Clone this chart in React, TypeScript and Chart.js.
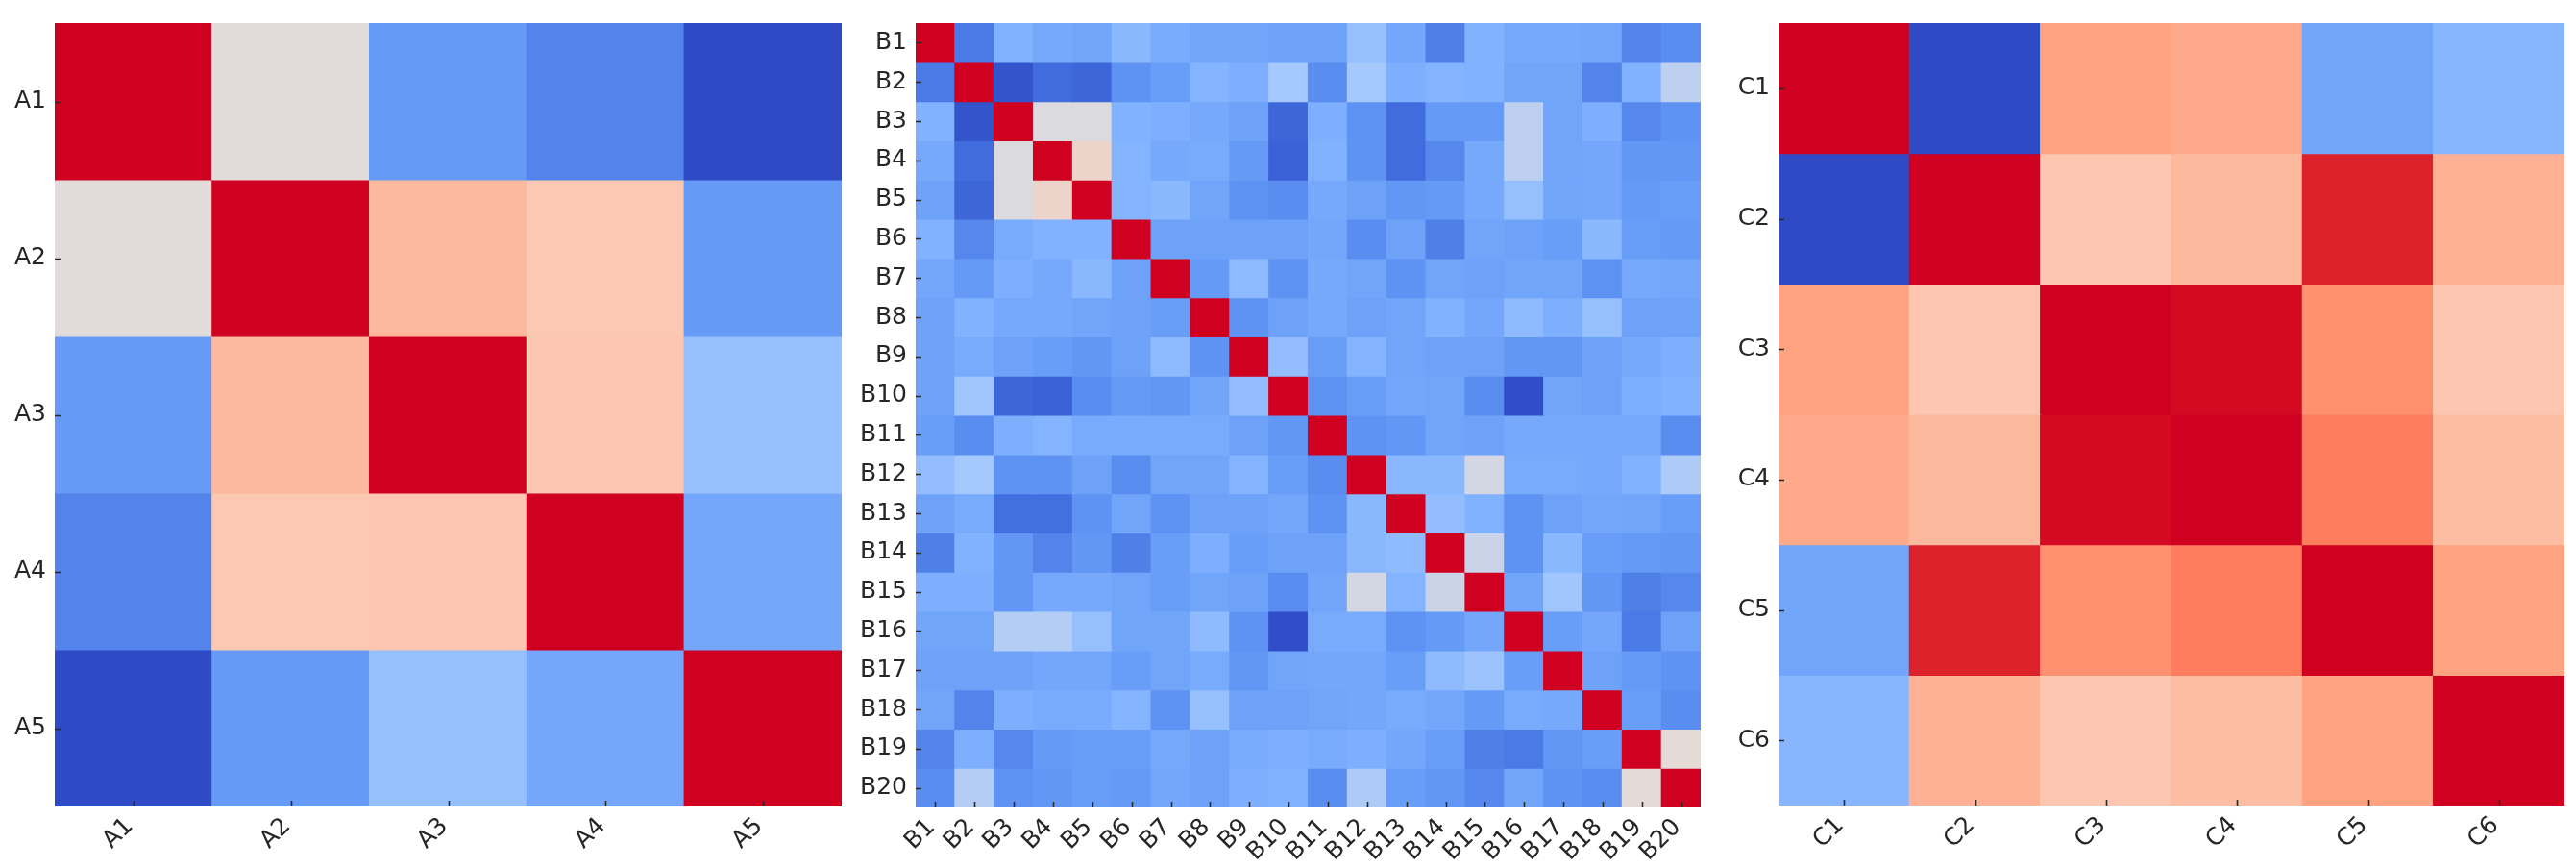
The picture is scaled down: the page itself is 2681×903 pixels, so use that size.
import React, { useEffect, useRef } from 'react';
import { Chart, registerables } from 'chart.js';

Chart.register(...registerables);

// ---------- data ----------
const A_LABELS = ['A1', 'A2', 'A3', 'A4', 'A5'];
const A_VALUES = [
  [1.0, 0.0, -0.58, -0.7, -1.0],
  [0.0, 1.0, 0.28, 0.2, -0.58],
  [-0.58, 0.28, 1.0, 0.21, -0.28],
  [-0.7, 0.2, 0.21, 1.0, -0.48],
  [-1.0, -0.58, -0.28, -0.48, 1.0],
];

const B_LABELS = Array.from({ length: 20 }, (_, i) => `B${i + 1}`);
const B_VALUES = [
  [1, -0.75, -0.4, -0.47, -0.5, -0.35, -0.45, -0.5, -0.5, -0.52, -0.52, -0.28, -0.48, -0.72, -0.4, -0.47, -0.47, -0.48, -0.7, -0.65],
  [-0.75, 1, -0.95, -0.82, -0.85, -0.62, -0.55, -0.38, -0.42, -0.2, -0.65, -0.2, -0.42, -0.38, -0.4, -0.5, -0.5, -0.7, -0.4, -0.12],
  [-0.4, -0.95, 1, -0.02, -0.02, -0.4, -0.42, -0.47, -0.52, -0.85, -0.42, -0.62, -0.82, -0.58, -0.58, -0.12, -0.5, -0.42, -0.68, -0.62],
  [-0.47, -0.82, -0.02, 1, 0.08, -0.38, -0.47, -0.45, -0.58, -0.88, -0.4, -0.62, -0.82, -0.68, -0.47, -0.12, -0.5, -0.48, -0.6, -0.6],
  [-0.52, -0.85, -0.02, 0.08, 1, -0.38, -0.35, -0.5, -0.62, -0.65, -0.47, -0.52, -0.6, -0.58, -0.47, -0.28, -0.5, -0.48, -0.58, -0.55],
  [-0.4, -0.68, -0.45, -0.4, -0.4, 1, -0.52, -0.52, -0.52, -0.52, -0.48, -0.65, -0.52, -0.72, -0.5, -0.52, -0.55, -0.35, -0.55, -0.58],
  [-0.48, -0.58, -0.42, -0.47, -0.35, -0.52, 1, -0.58, -0.33, -0.62, -0.47, -0.5, -0.62, -0.5, -0.52, -0.5, -0.5, -0.63, -0.47, -0.48],
  [-0.52, -0.4, -0.47, -0.47, -0.5, -0.52, -0.55, 1, -0.62, -0.52, -0.47, -0.52, -0.5, -0.4, -0.48, -0.32, -0.42, -0.28, -0.52, -0.52],
  [-0.52, -0.45, -0.52, -0.55, -0.6, -0.52, -0.33, -0.62, 1, -0.3, -0.55, -0.38, -0.5, -0.52, -0.52, -0.6, -0.6, -0.52, -0.47, -0.42],
  [-0.52, -0.22, -0.85, -0.88, -0.65, -0.58, -0.6, -0.5, -0.3, 1, -0.62, -0.55, -0.48, -0.5, -0.65, -0.98, -0.5, -0.52, -0.43, -0.4],
  [-0.55, -0.65, -0.42, -0.38, -0.45, -0.45, -0.45, -0.45, -0.52, -0.6, 1, -0.62, -0.6, -0.5, -0.52, -0.47, -0.47, -0.47, -0.47, -0.65],
  [-0.3, -0.2, -0.62, -0.62, -0.52, -0.65, -0.5, -0.5, -0.38, -0.55, -0.65, 1, -0.35, -0.35, -0.05, -0.45, -0.45, -0.47, -0.4, -0.17],
  [-0.52, -0.45, -0.8, -0.8, -0.62, -0.5, -0.62, -0.52, -0.52, -0.48, -0.62, -0.35, 1, -0.3, -0.4, -0.62, -0.52, -0.48, -0.5, -0.55],
  [-0.72, -0.4, -0.6, -0.7, -0.6, -0.72, -0.55, -0.42, -0.55, -0.52, -0.52, -0.35, -0.32, 1, -0.08, -0.62, -0.35, -0.55, -0.58, -0.6],
  [-0.42, -0.42, -0.6, -0.47, -0.47, -0.5, -0.55, -0.5, -0.52, -0.65, -0.5, -0.05, -0.38, -0.08, 1, -0.5, -0.22, -0.6, -0.72, -0.68],
  [-0.5, -0.5, -0.15, -0.15, -0.28, -0.5, -0.5, -0.32, -0.62, -0.98, -0.45, -0.45, -0.62, -0.58, -0.48, 1, -0.55, -0.48, -0.75, -0.52],
  [-0.52, -0.52, -0.52, -0.48, -0.48, -0.55, -0.5, -0.45, -0.6, -0.5, -0.48, -0.48, -0.55, -0.32, -0.25, -0.55, 1, -0.52, -0.58, -0.62],
  [-0.5, -0.7, -0.42, -0.45, -0.45, -0.38, -0.62, -0.28, -0.52, -0.52, -0.5, -0.48, -0.45, -0.48, -0.58, -0.45, -0.47, 1, -0.55, -0.65],
  [-0.7, -0.42, -0.68, -0.58, -0.55, -0.55, -0.47, -0.52, -0.45, -0.42, -0.45, -0.42, -0.48, -0.55, -0.72, -0.75, -0.6, -0.55, 1, 0.02],
  [-0.65, -0.15, -0.62, -0.6, -0.55, -0.58, -0.48, -0.52, -0.42, -0.4, -0.65, -0.17, -0.55, -0.6, -0.68, -0.5, -0.62, -0.65, 0.02, 1],
];

const C_LABELS = ['C1', 'C2', 'C3', 'C4', 'C5', 'C6'];
const C_VALUES = [
  [1.0, -1.0, 0.4, 0.36, -0.5, -0.36],
  [-1.0, 1.0, 0.21, 0.28, 0.87, 0.32],
  [0.4, 0.21, 1.0, 0.96, 0.5, 0.21],
  [0.36, 0.28, 0.96, 1.0, 0.6, 0.26],
  [-0.5, 0.87, 0.5, 0.6, 1.0, 0.4],
  [-0.36, 0.32, 0.21, 0.26, 0.4, 1.0],
];

// ---------- colour map (value in [-1, 1]) ----------
const CMAP_POS = [-1.0, -0.8, -0.6, -0.4, -0.2, 0.0, 0.2, 0.4, 0.6, 0.8, 1.0];
const CMAP_RGB = [
  [46, 74, 196],
  [66, 112, 224],
  [98, 151, 245],
  [128, 178, 255],
  [165, 200, 253],
  [225, 220, 218],
  [252, 200, 178],
  [255, 162, 128],
  [255, 125, 95],
  [228, 50, 48],
  [208, 0, 32],
];

function colorFor(v: number): string {
  const x = Math.max(-1, Math.min(1, v));
  let i = 0;
  while (i < CMAP_POS.length - 2 && x > CMAP_POS[i + 1]) i++;
  const t = (x - CMAP_POS[i]) / (CMAP_POS[i + 1] - CMAP_POS[i]);
  const a = CMAP_RGB[i];
  const b = CMAP_RGB[i + 1];
  const c = a.map((av, k) => Math.round(av + (b[k] - av) * t));
  return `rgb(${c[0]}, ${c[1]}, ${c[2]})`;
}

const FONT = { family: 'DejaVu Sans', size: 25 };
const TEXT_COLOR = '#262626';

const tickMarks = {
  id: 'tickMarks',
  afterDraw(chart: any) {
    const { ctx, chartArea, scales } = chart;
    ctx.save();
    ctx.strokeStyle = '#2a2a2a';
    ctx.lineWidth = 1.6;
    ctx.beginPath();
    scales.x.ticks.forEach((_: any, i: number) => {
      const px = Math.round(scales.x.getPixelForTick(i)) + 0.5;
      ctx.moveTo(px, chartArea.bottom);
      ctx.lineTo(px, chartArea.bottom - 6);
    });
    scales.y.ticks.forEach((_: any, i: number) => {
      const py = Math.round(scales.y.getPixelForTick(i)) + 0.5;
      ctx.moveTo(chartArea.left, py);
      ctx.lineTo(chartArea.left + 6, py);
    });
    ctx.stroke();
    ctx.restore();
  },
};

type HeatmapProps = {
  labels: string[];
  values: number[][];
  left: number;
  width: number;
  yAxisWidth: number;
  plotSize: number;
  top: number;
  height: number;
};

function Heatmap({ labels, values, left, width, yAxisWidth, plotSize, top, height }: HeatmapProps) {
  const ref = useRef<HTMLCanvasElement | null>(null);
  useEffect(() => {
    if (!ref.current) return;
    const n = labels.length;
    const xAxisHeight = height - top - plotSize;
    const rightPad = width - yAxisWidth - plotSize;
    const chart = new Chart(ref.current, {
      type: 'bar',
      data: {
        labels,
        datasets: values.map((row, r) => ({
          label: labels[r],
          data: labels.map(() => 1),
          backgroundColor: row.map(colorFor),
          borderWidth: 0,
          barPercentage: 1,
          categoryPercentage: 1,
          inflateAmount: 0.6,
          stack: 'cells',
        })),
      },
      options: {
        animation: false,
        responsive: false,
        devicePixelRatio: 1,
        layout: { padding: { top, right: rightPad, bottom: 0, left: 0 } },
        plugins: { legend: { display: false }, tooltip: { enabled: false } },
        scales: {
          x: {
            stacked: true,
            grid: { display: false, drawTicks: false },
            border: { display: false },
            ticks: {
              autoSkip: false,
              minRotation: 45,
              maxRotation: 45,
              padding: 6,
              labelOffset: -4,
              font: FONT,
              color: TEXT_COLOR,
            },
            afterFit: (s: any) => {
              s.height = xAxisHeight;
            },
          },
          y: {
            type: 'linear',
            stacked: true,
            reverse: true,
            min: 0,
            max: n,
            grid: { display: false, drawTicks: false },
            border: { display: false },
            afterBuildTicks: (s: any) => {
              s.ticks = labels.map((_, i) => ({ value: i + 0.5 }));
            },
            ticks: {
              autoSkip: false,
              padding: 9,
              font: FONT,
              color: TEXT_COLOR,
              callback: (_v: any, i: number) => labels[i],
            },
            afterFit: (s: any) => {
              s.width = yAxisWidth;
            },
          },
        },
      },
      plugins: [tickMarks],
    } as any);
    return () => chart.destroy();
  }, [labels, values, width, yAxisWidth, plotSize, top, height]);
  return (
    <canvas
      ref={ref}
      width={width}
      height={height}
      style={{ position: 'absolute', left, top: 0, width, height }}
    />
  );
}

export default function App() {
  return (
    <div style={{ position: 'absolute', left: 0, top: 0, width: 2681, height: 903, background: '#ffffff' }}>
      <Heatmap labels={A_LABELS} values={A_VALUES} left={0} width={880} yAxisWidth={57} plotSize={819} top={20} height={903} />
      <Heatmap labels={B_LABELS} values={B_VALUES} left={880} width={897} yAxisWidth={73} plotSize={820} top={20} height={903} />
      <Heatmap labels={C_LABELS} values={C_VALUES} left={1780} width={901} yAxisWidth={71} plotSize={818} top={20} height={903} />
    </div>
  );
}
